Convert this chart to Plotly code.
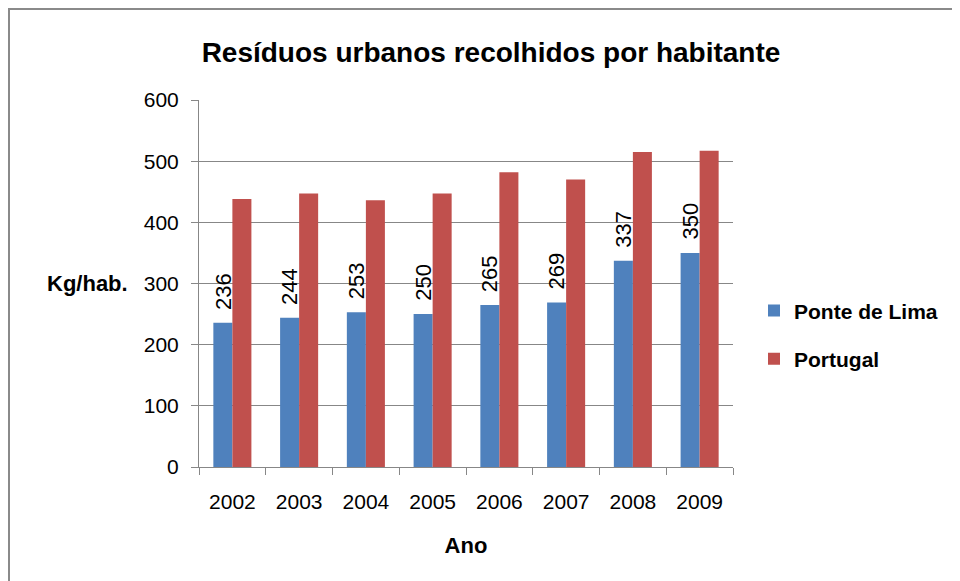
import plotly.graph_objects as go

anos = ['2002', '2003', '2004', '2005', '2006', '2007', '2008', '2009']
ponte_de_lima = [236, 244, 253, 250, 265, 269, 337, 350]
portugal = [438, 447, 436, 447, 482, 470, 515, 517]
y_ticks = [0, 100, 200, 300, 400, 500, 600]

FONT = 'Liberation Sans, Arial, sans-serif'
BLUE = '#4F81BD'
RED = '#C0504D'
GRID = '#878787'

# the page puts the figure 8px in from the top-left corner
L, T, PW, PH = 191, 92, 534, 367

fig = go.Figure()
fig.add_trace(go.Bar(x=anos, y=ponte_de_lima, name='Ponte de Lima',
                     marker=dict(color=BLUE, line=dict(width=0)),
                     legendgroup='a'))
fig.add_trace(go.Bar(x=anos, y=portugal, name='Portugal',
                     marker=dict(color=RED, line=dict(width=0)),
                     legendgroup='b'))

# rotated value labels above the Ponte de Lima bars (category index as x)
annotations = []
for i, v in enumerate(ponte_de_lima):
    annotations.append(dict(x=i, y=v, xref='x', yref='y', text=str(v),
                            textangle=-90, showarrow=False,
                            xanchor='center', yanchor='bottom',
                            xshift=-9.5, yshift=11,
                            font=dict(family=FONT, size=22, color='black')))

# y axis title, horizontal
annotations.append(dict(x=(122 - L) / PW, y=300, xref='paper', yref='y',
                        text='<b>Kg/hab.</b>', showarrow=False,
                        xanchor='right', yanchor='middle',
                        font=dict(family=FONT, size=22, color='black')))

fig.update_layout(
    width=960, height=581,
    margin=dict(l=L, r=960 - L - PW, t=T, b=581 - T - PH, autoexpand=False),
    paper_bgcolor='white', plot_bgcolor='white',
    title=dict(text='<b>Resíduos urbanos recolhidos por habitante</b>',
               x=483 / 960, xanchor='center', xref='container',
               y=1 - 44 / 581, yanchor='middle', yref='container',
               font=dict(family=FONT, size=28, color='black')),
    barmode='group', bargap=0.43, bargroupgap=0,
    showlegend=True,
    legend=dict(x=(746 - L) / PW, y=0.36, xanchor='left', yanchor='middle',
                font=dict(family=FONT, size=21, color='black', weight='bold'),
                tracegroupgap=18, itemwidth=30,
                bgcolor='rgba(0,0,0,0)'),
    annotations=annotations,
    shapes=[dict(type='rect', xref='paper', yref='paper',
                 x0=(1 - L) / PW, x1=2, y0=-2, y1=(T + PH - 1) / PH,
                 line=dict(color='#8a8a8a', width=2), layer='below')],
)

fig.update_xaxes(
    type='category', tickson='boundaries', range=[-0.5, 7.5],
    showline=True, linecolor=GRID, linewidth=1,
    ticks='outside', ticklen=7, tickcolor=GRID,
    showgrid=False, tickangle=0, automargin=False,
    ticklabelstandoff=16,
    tickfont=dict(family=FONT, size=21, color='black'),
    title=dict(text='<b>Ano</b>', standoff=25,
               font=dict(family=FONT, size=22, color='black')),
)
fig.update_yaxes(
    range=[0, 600], tickvals=y_ticks,
    showline=True, linecolor=GRID, linewidth=1,
    ticks='outside', ticklen=7, tickcolor=GRID,
    showgrid=True, gridcolor=GRID, gridwidth=1,
    zeroline=False, automargin=False,
    ticklabelstandoff=8,
    tickfont=dict(family=FONT, size=21, color='black'),
)

fig.write_html("out.html")
